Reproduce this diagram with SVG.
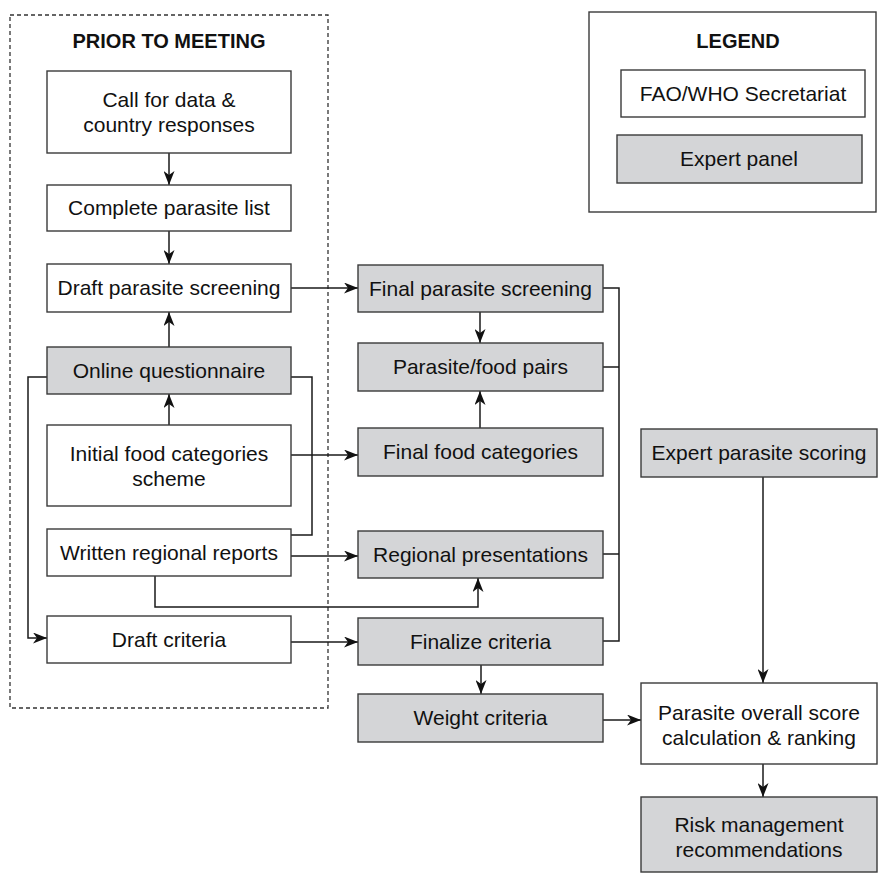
<svg xmlns="http://www.w3.org/2000/svg" width="878" height="873" viewBox="0 0 878 873">
<defs>
<style>
.b{fill:#ffffff;stroke:#3a3a3a;stroke-width:1.4}
.g{fill:#d4d5d7;stroke:#3a3a3a;stroke-width:1.4}
.t{font-family:"Liberation Sans",Arial,sans-serif;font-size:21px;fill:#111;text-anchor:middle}
.h{font-family:"Liberation Sans",Arial,sans-serif;font-size:20px;font-weight:bold;fill:#111;text-anchor:middle}
.c{fill:none;stroke:#1a1a1a;stroke-width:1.5}
.a{marker-end:url(#ah)}
</style>
<marker id="ah" viewBox="0 0 14 11" refX="14" refY="5.5" markerWidth="14" markerHeight="11" markerUnits="userSpaceOnUse" orient="auto">
<path d="M0,0 L14,5.5 L0,11 L4,5.5 z" fill="#111"/>
</marker>
</defs>
<rect width="878" height="873" fill="#ffffff"/>

<g id="prior-to-meeting">
<rect x="10" y="15" width="318" height="693" fill="none" stroke="#333" stroke-width="1.3" stroke-dasharray="4,3"/>
<text class="h" x="169" y="48">PRIOR TO MEETING</text>
</g>

<g id="legend">
<rect x="589" y="12" width="287" height="200" fill="#fff" stroke="#3a3a3a" stroke-width="1.4"/>
<text class="h" x="738" y="48">LEGEND</text>
<rect class="b" x="621" y="70" width="244" height="47"/>
<text class="t" x="743" y="101">FAO/WHO Secretariat</text>
<rect class="g" x="617" y="135" width="245" height="48"/>
<text class="t" x="739" y="166">Expert panel</text>
</g>

<g id="connectors">
<line class="c a" x1="169" y1="153" x2="169" y2="185"/>
<line class="c a" x1="169" y1="231" x2="169" y2="264"/>
<line class="c a" x1="169" y1="347" x2="169" y2="312"/>
<line class="c a" x1="169" y1="425" x2="169" y2="394"/>
<line class="c a" x1="291" y1="288" x2="358" y2="288"/>
<line class="c a" x1="291" y1="455" x2="358" y2="455"/>
<line class="c a" x1="291" y1="556" x2="358" y2="556"/>
<line class="c a" x1="291" y1="642" x2="358" y2="642"/>
<polyline class="c a" points="155,576 155,607 478,607 478,578"/>
<polyline class="c a" points="47,377 28,377 28,638 47,638"/>
<polyline class="c" points="291,377 312,377 312,535 291,535"/>
<line class="c a" x1="480" y1="312" x2="480" y2="343"/>
<line class="c a" x1="480" y1="428" x2="480" y2="391"/>
<polyline class="c" points="603,288 619,288 619,641 603,641"/>
<line class="c" x1="603" y1="367" x2="619" y2="367"/>
<line class="c" x1="603" y1="554" x2="619" y2="554"/>
<line class="c a" x1="481" y1="665" x2="481" y2="694"/>
<line class="c a" x1="603" y1="720" x2="641" y2="720"/>
<line class="c a" x1="763" y1="477" x2="763" y2="683"/>
<line class="c a" x1="763" y1="764" x2="763" y2="797"/>
</g>

<g id="call-for-data">
<rect class="b" x="47" y="71" width="244" height="82"/>
<text class="t" x="169" y="107">Call for data &amp;</text>
<text class="t" x="169" y="132">country responses</text>
</g>
<g id="complete-parasite-list">
<rect class="b" x="47" y="185" width="244" height="46"/>
<text class="t" x="169" y="215">Complete parasite list</text>
</g>
<g id="draft-parasite-screening">
<rect class="b" x="47" y="264" width="244" height="48"/>
<text class="t" x="169" y="295">Draft parasite screening</text>
</g>
<g id="online-questionnaire">
<rect class="g" x="47" y="347" width="244" height="47"/>
<text class="t" x="169" y="378">Online questionnaire</text>
</g>
<g id="initial-food-categories">
<rect class="b" x="47" y="425" width="244" height="81"/>
<text class="t" x="169" y="461">Initial food categories</text>
<text class="t" x="169" y="486">scheme</text>
</g>
<g id="written-regional-reports">
<rect class="b" x="47" y="529" width="244" height="47"/>
<text class="t" x="169" y="560">Written regional reports</text>
</g>
<g id="draft-criteria">
<rect class="b" x="47" y="616" width="244" height="47"/>
<text class="t" x="169" y="647">Draft criteria</text>
</g>

<g id="final-parasite-screening">
<rect class="g" x="358" y="265" width="245" height="47"/>
<text class="t" x="480.5" y="296">Final parasite screening</text>
</g>
<g id="parasite-food-pairs">
<rect class="g" x="358" y="343" width="245" height="48"/>
<text class="t" x="480.5" y="374">Parasite/food pairs</text>
</g>
<g id="final-food-categories">
<rect class="g" x="358" y="428" width="245" height="48"/>
<text class="t" x="480.5" y="459">Final food categories</text>
</g>
<g id="regional-presentations">
<rect class="g" x="358" y="531" width="245" height="47"/>
<text class="t" x="480.5" y="562">Regional presentations</text>
</g>
<g id="finalize-criteria">
<rect class="g" x="358" y="618" width="245" height="47"/>
<text class="t" x="480.5" y="649">Finalize criteria</text>
</g>
<g id="weight-criteria">
<rect class="g" x="358" y="694" width="245" height="48"/>
<text class="t" x="480.5" y="725">Weight criteria</text>
</g>

<g id="expert-parasite-scoring">
<rect class="g" x="641" y="429" width="236" height="48"/>
<text class="t" x="759" y="460">Expert parasite scoring</text>
</g>
<g id="parasite-overall-score">
<rect class="b" x="641" y="683" width="236" height="81"/>
<text class="t" x="759" y="720">Parasite overall score</text>
<text class="t" x="759" y="745">calculation &amp; ranking</text>
</g>
<g id="risk-management">
<rect class="g" x="641" y="797" width="236" height="75"/>
<text class="t" x="759" y="832">Risk management</text>
<text class="t" x="759" y="857">recommendations</text>
</g>
</svg>
